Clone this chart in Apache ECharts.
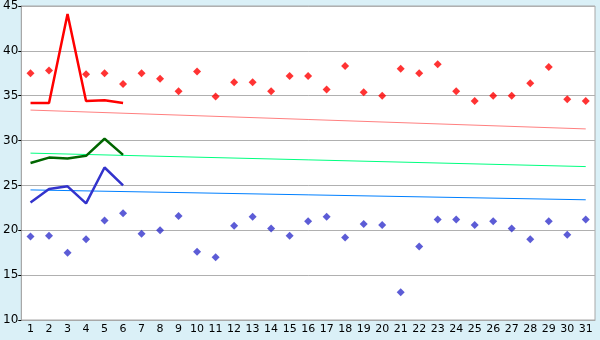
<!DOCTYPE html>
<html>
<head>
<meta charset="utf-8">
<script src="https://cdn.jsdelivr.net/npm/echarts@6/dist/echarts.min.js"></script>
<style>
  html, body { margin: 0; padding: 0; background: #daf0f7; }
  #chart { width: 600px; height: 340px; }
</style>
</head>
<body>
<div id="chart"></div>
<script>
// days of the month
const days = ['1','2','3','4','5','6','7','8','9','10','11','12','13','14','15','16',
  '17','18','19','20','21','22','23','24','25','26','27','28','29','30','31']

// scatter points (diamonds)
const redPoints = [37.5, 37.8, null, 37.4, 37.5, 36.3, 37.5, 36.9, 35.5, 37.7,
  34.9, 36.5, 36.5, 35.5, 37.2, 37.2, 35.7, 38.3, 35.4, 35.0,
  38.0, 37.5, 38.5, 35.5, 34.4, 35.0, 35.0, 36.4, 38.2, 34.6, 34.4]
const bluePoints = [19.3, 19.4, 17.5, 19.0, 21.1, 21.9, 19.6, 20.0, 21.6, 17.6,
  17.0, 20.5, 21.5, 20.2, 19.4, 21.0, 21.5, 19.2, 20.7, 20.6,
  13.1, 18.2, 21.2, 21.2, 20.6, 21.0, 20.2, 19.0, 21.0, 19.5, 21.2]

// lines for first six days
const redLine = [34.2, 34.2, 44.1, 34.4, 34.5, 34.2]
const greenLine = [27.5, 28.1, 28.0, 28.3, 30.2, 28.4]
const blueLine = [23.1, 24.6, 24.9, 23.0, 27.0, 25.0]

// trend lines: value at day 1 and day 31
const redTrend = [33.4, 31.3]
const greenTrend = [28.6, 27.1]
const blueTrend = [24.5, 23.4]

const yTicks = { min: 10, max: 45, interval: 5 }

function trendSeries(ends, color) {
  return {
    type: 'line',
    data: [[days[0], ends[0]], [days[days.length - 1], ends[1]]],
    symbol: 'none',
    lineStyle: { color: color, width: 1 },
    silent: true,
    z: 1
  }
}

function lineSeries(data, color) {
  return {
    type: 'line',
    data: data,
    symbol: 'none',
    lineStyle: { color: color, width: 2.5 },
    z: 3
  }
}

function dotSeries(data, color) {
  return {
    type: 'scatter',
    data: data,
    symbol: 'diamond',
    symbolSize: 8,
    itemStyle: { color: color },
    z: 4
  }
}

var myChart = echarts.init(document.getElementById('chart'))
myChart.setOption({
  animation: false,
  backgroundColor: '#daf0f7',
  textStyle: { fontFamily: 'DejaVu Sans' },
  grid: {
    left: 20, right: 5, top: 5, bottom: 20,
    show: true,
    backgroundColor: '#ffffff',
    borderColor: '#a8a8a8',
    borderWidth: 1
  },
  xAxis: {
    type: 'category',
    data: days,
    boundaryGap: true,
    axisLine: { lineStyle: { color: '#a8a8a8' } },
    axisTick: { alignWithLabel: true, length: 5, lineStyle: { color: '#000' } },
    axisLabel: { color: '#000', fontSize: 11, margin: 4, interval: 0 },
    splitLine: { show: false }
  },
  yAxis: {
    type: 'value',
    min: yTicks.min,
    max: yTicks.max,
    interval: yTicks.interval,
    axisLine: { show: true, lineStyle: { color: '#a8a8a8' } },
    axisTick: { show: true, length: 3, lineStyle: { color: '#000' } },
    axisLabel: { color: '#000', fontSize: 12, margin: 3 },
    splitLine: { lineStyle: { color: '#b0b0b0' } }
  },
  series: [
    trendSeries(redTrend, '#ff8080'),
    trendSeries(greenTrend, '#00ff80'),
    trendSeries(blueTrend, '#0080ff'),
    lineSeries(redLine, '#ff0000'),
    lineSeries(greenLine, '#006600'),
    lineSeries(blueLine, '#3333cc'),
    dotSeries(redPoints, '#ff0000'),
    dotSeries(bluePoints, '#3333cc')
  ]
})
</script>
</body>
</html>
